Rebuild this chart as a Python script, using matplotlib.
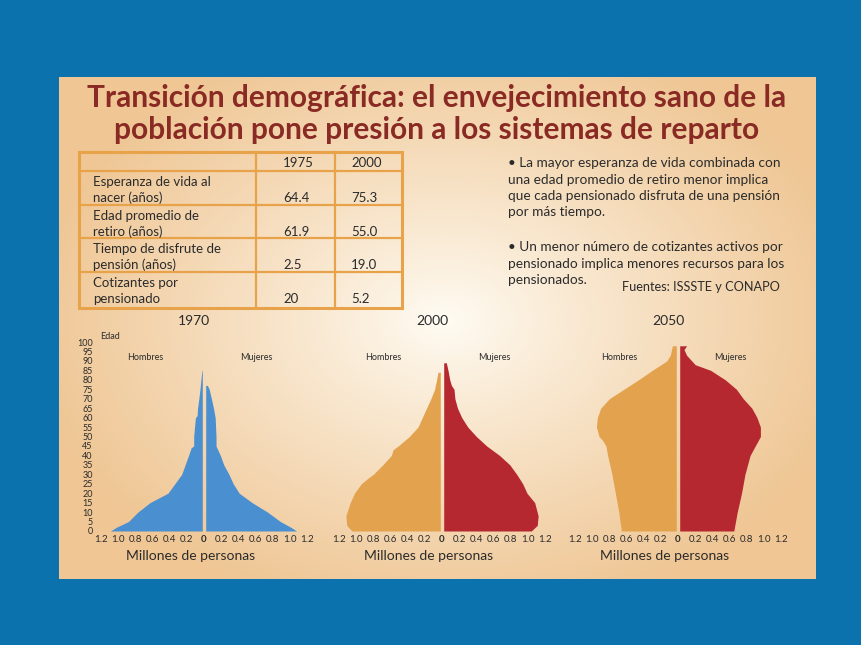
import numpy as np
import matplotlib
matplotlib.use("Agg")
import matplotlib.pyplot as plt
from matplotlib.patches import Rectangle

# ---------------- datos ----------------
edades_1970_h = [0, 2, 5, 10, 15, 20, 25, 30, 35, 40, 44, 45, 50, 55, 60, 61, 65, 70, 75, 80, 85]
hombres_1970 = [1.07, 1.00, 0.86, 0.75, 0.61, 0.40, 0.32, 0.24, 0.20, 0.16, 0.13, 0.10, 0.10, 0.09, 0.08, 0.06, 0.055, 0.04, 0.027, 0.016, 0.004]
edades_1970_m = [0, 2, 5, 10, 15, 20, 25, 30, 35, 40, 45, 50, 55, 60, 65, 70, 75, 77]
mujeres_1970 = [1.06, 0.99, 0.87, 0.72, 0.54, 0.39, 0.32, 0.27, 0.21, 0.17, 0.12, 0.12, 0.115, 0.11, 0.09, 0.066, 0.04, 0.02]

edades_2000_h = [0, 3, 8, 15, 20, 25, 28, 30, 35, 40, 43, 45, 50, 55, 60, 65, 70, 75, 80, 84]
hombres_2000 = [1.03, 1.09, 1.10, 1.05, 1.00, 0.92, 0.84, 0.78, 0.67, 0.57, 0.55, 0.49, 0.36, 0.26, 0.21, 0.16, 0.11, 0.066, 0.043, 0.027]
edades_2000_m = [0, 3, 8, 15, 20, 25, 30, 35, 40, 45, 50, 55, 60, 65, 70, 75, 77, 80, 85, 89]
mujeres_2000 = [1.02, 1.09, 1.10, 1.06, 0.97, 0.92, 0.85, 0.77, 0.65, 0.50, 0.38, 0.28, 0.21, 0.16, 0.13, 0.12, 0.09, 0.07, 0.05, 0.03]

edades_2050_h = [0, 10, 20, 30, 40, 45, 48, 50, 55, 60, 65, 70, 75, 80, 85, 90, 93, 98]
hombres_2050 = [0.64, 0.67, 0.71, 0.75, 0.80, 0.82, 0.86, 0.90, 0.93, 0.92, 0.88, 0.78, 0.61, 0.44, 0.28, 0.11, 0.07, 0.045]
edades_2050_m = [0, 10, 20, 30, 40, 45, 50, 55, 60, 65, 70, 75, 80, 85, 88, 90, 93, 96, 98]
mujeres_2050 = [0.63, 0.67, 0.72, 0.76, 0.82, 0.88, 0.94, 0.94, 0.90, 0.84, 0.74, 0.66, 0.53, 0.36, 0.18, 0.14, 0.08, 0.05, 0.08]

filas = ["Esperanza de vida al\nnacer (años)", "Edad promedio de\nretiro (años)",
         "Tiempo de disfrute de\npensión (años)", "Cotizantes por\npensionado"]
anios_tabla = ["1975", "2000"]
val_1975 = ["64.4", "61.9", "2.5", "20"]
val_2000 = ["75.3", "55.0", "19.0", "5.2"]

AZUL = "#4a8fcf"
NARANJA = "#e3a34e"
ROJO = "#b5282f"
TINTA = "#2b2b2b"

W, H = 862, 645
fig = plt.figure(figsize=(W / 100, H / 100), dpi=100, facecolor="#0b72ad")
plt.rcParams['font.family'] = ['Lato', 'DejaVu Sans']


def fx(x):
    return x / W


def fy(y):
    return 1 - y / H


# ---- panel beige con degradado radial ----
px0, py0, px1, py1 = 59, 77, 816, 579
bg = fig.add_axes([fx(px0), fy(py1), fx(px1 - px0), (py1 - py0) / H])
bg.axis("off")
yy, xx = np.mgrid[py0:py1, px0:px1]
r = np.sqrt(((xx - 445) / 420.0) ** 2 + ((yy - 320) / 300.0) ** 2)
t = np.clip(r, 0, 1) ** 0.9
c_centro = np.array([255, 252, 244]) / 255
c_borde = np.array([239, 198, 148]) / 255
img = c_centro[None, None, :] * (1 - t[..., None]) + c_borde[None, None, :] * t[..., None]
bg.imshow(img, aspect="auto", extent=[0, 1, 0, 1])
bg.set_xlim(0, 1)
bg.set_ylim(0, 1)

# ---- titulo ----
fig.text(fx(437), fy(98), "Transición demográfica: el envejecimiento sano de la",
         ha="center", va="center", fontsize=21.5, fontweight="bold", color="#8a2a24")
fig.text(fx(437), fy(130), "población pone presión a los sistemas de reparto",
         ha="center", va="center", fontsize=21.5, fontweight="bold", color="#8a2a24")

# ---- tabla ----
lineas_y = [152, 171, 205, 238, 272, 308]
col_x = [79, 256, 335, 402]
borde = "#e8a24a"
for yl in lineas_y[1:-1]:
    fig.add_artist(plt.Line2D([fx(col_x[0]), fx(col_x[-1])], [fy(yl), fy(yl)], color=borde, lw=1.6))
for xl in col_x[1:-1]:
    fig.add_artist(plt.Line2D([fx(xl), fx(xl)], [fy(lineas_y[0]), fy(lineas_y[-1])], color=borde, lw=1.6))
fig.add_artist(Rectangle((fx(col_x[0]), fy(lineas_y[-1])), fx(col_x[-1] - col_x[0]),
                         (lineas_y[-1] - lineas_y[0]) / H, fill=False, ec=borde, lw=2.2))
fig.text(fx(283), fy(163), anios_tabla[0], ha="left", va="center", fontsize=9.5, color=TINTA)
fig.text(fx(351), fy(163), anios_tabla[1], ha="left", va="center", fontsize=9.5, color=TINTA)
for i, fila in enumerate(filas):
    y_top = lineas_y[i + 1]
    l1, l2 = fila.split("\n")
    fig.text(fx(93), fy(y_top + 11), l1, ha="left", va="center", fontsize=9.5, color=TINTA)
    fig.text(fx(93), fy(y_top + 27), l2, ha="left", va="center", fontsize=9.5, color=TINTA)
    fig.text(fx(283), fy(y_top + 27), val_1975[i], ha="left", va="center", fontsize=9.5, color=TINTA)
    fig.text(fx(351), fy(y_top + 27), val_2000[i], ha="left", va="center", fontsize=9.5, color=TINTA)

# ---- texto de vinetas ----
bullets = [
    ["• La mayor esperanza de vida combinada con", "una edad promedio de retiro menor implica",
     "que cada pensionado disfruta de una pensión", "por más tiempo."],
    ["• Un menor número de cotizantes activos por", "pensionado implica menores recursos para los",
     "pensionados."],
]
y0s = [163, 247]
for bloque, y0 in zip(bullets, y0s):
    for j, linea in enumerate(bloque):
        fig.text(fx(508), fy(y0 + j * 16.5), linea, ha="left", va="center", fontsize=9.8, color=TINTA)
fig.text(fx(622), fy(287), "Fuentes: ISSSTE y CONAPO", ha="left", va="center", fontsize=9.2, color=TINTA)

# ---- piramides ----
GAP = 0.02
piramides = [
    ("1970", 204, edades_1970_h, hombres_1970, edades_1970_m, mujeres_1970, AZUL, AZUL),
    ("2000", 442, edades_2000_h, hombres_2000, edades_2000_m, mujeres_2000, NARANJA, ROJO),
    ("2050", 678, edades_2050_h, hombres_2050, edades_2050_m, mujeres_2050, NARANJA, ROJO),
]
medio = 103  # px por 1.2 millones
y_cero, y_cien = 531, 342
ticks = np.round(np.arange(-1.2, 1.21, 0.2), 1)
for k, (anio, cx, eh, vh, em, vm, col_h, col_m) in enumerate(piramides):
    ax = fig.add_axes([fx(cx - medio), fy(y_cero), fx(2 * medio), (y_cero - y_cien) / H])
    ax.patch.set_alpha(0)
    ax.fill_betweenx(eh, -GAP - np.array(vh), -GAP, color=col_h, lw=0)
    ax.fill_betweenx(em, GAP, GAP + np.array(vm), color=col_m, lw=0)
    ax.set_xlim(-1.2, 1.2)
    ax.set_ylim(0, 100)
    for s in ax.spines.values():
        s.set_visible(False)
    ax.set_xticks(ticks)
    ax.set_xticklabels(["0" if v == 0 else f"{abs(v):.1f}" for v in ticks], fontsize=7, color=TINTA)
    for lbl, v in zip(ax.get_xticklabels(), ticks):
        if v == 0:
            lbl.set_fontweight("bold")
    ax.tick_params(axis="x", length=0, pad=3)
    if k == 0:
        ax.set_yticks(np.arange(0, 101, 5))
        ax.set_yticklabels([str(v) for v in range(0, 101, 5)], fontsize=6.5, color=TINTA)
        ax.tick_params(axis="y", length=0, pad=6)
        fig.text(fx(100), fy(337), "Edad", ha="left", va="center", fontsize=6.5, color=TINTA)
    else:
        ax.set_yticks([])
    fig.text(fx(cx - 10), fy(321), anio, ha="center", va="center", fontsize=10, color=TINTA)
    fig.text(fx(cx - 59), fy(358), "Hombres", ha="center", va="center", fontsize=6.5, color=TINTA)
    fig.text(fx(cx + 52), fy(358), "Mujeres", ha="center", va="center", fontsize=6.5, color=TINTA)
    fig.text(fx(cx - 13), fy(556), "Millones de personas", ha="center", va="center", fontsize=10, color=TINTA)

fig.savefig("out.png", dpi=100, facecolor=fig.get_facecolor())
